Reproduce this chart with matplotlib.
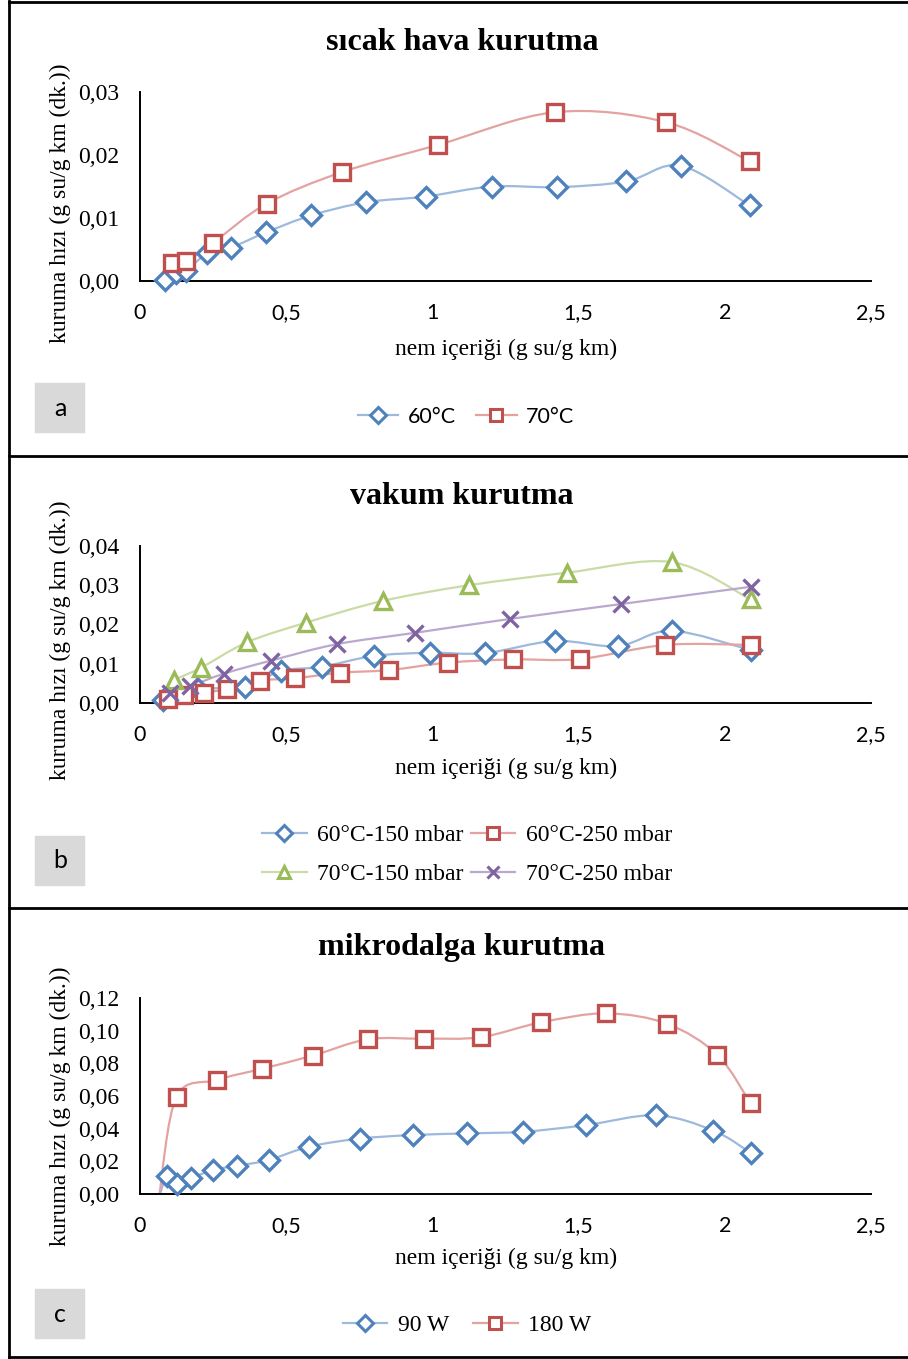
import numpy as np
import matplotlib
matplotlib.use('Agg')
import matplotlib.pyplot as plt
from matplotlib.path import Path
from matplotlib.patches import PathPatch, Rectangle
from matplotlib.lines import Line2D
from matplotlib.ticker import FuncFormatter

# --- data: panel a (sicak hava) ---
a_x60 = [0.084, 0.123, 0.158, 0.23, 0.311, 0.43, 0.585, 0.773, 0.977, 1.203, 1.427, 1.663, 1.849, 2.085]
a_y60 = [0.0002, 0.0012, 0.0016, 0.0044, 0.0053, 0.0077, 0.0104, 0.0125, 0.0134, 0.0150, 0.0149, 0.0158, 0.0183, 0.0120]
a_x70 = [0.075, 0.109, 0.158, 0.251, 0.434, 0.692, 1.019, 1.42, 1.80, 2.085]
a_y70 = [-0.0005, 0.0028, 0.0031, 0.0061, 0.0123, 0.0173, 0.0216, 0.0268, 0.0252, 0.0190]

# --- data: panel b (vakum) ---
b_x1 = [0.08, 0.20, 0.36, 0.483, 0.621, 0.80, 0.993, 1.18, 1.418, 1.634, 1.818, 2.088]
b_y1 = [0.0008, 0.0035, 0.0042, 0.0082, 0.0092, 0.0120, 0.0128, 0.0127, 0.0158, 0.0145, 0.0184, 0.0135]
b_x2 = [0.095, 0.15, 0.22, 0.297, 0.409, 0.53, 0.685, 0.853, 1.055, 1.277, 1.504, 1.797, 2.088]
b_y2 = [0.0009, 0.0020, 0.0026, 0.0036, 0.0057, 0.0063, 0.0077, 0.0084, 0.0103, 0.0111, 0.0112, 0.0148, 0.0148]
b_x3 = [0.116, 0.209, 0.367, 0.569, 0.83, 1.125, 1.46, 1.818, 2.088]
b_y3 = [0.0059, 0.0090, 0.0155, 0.0205, 0.0260, 0.0300, 0.0332, 0.0359, 0.0264]
b_x4 = [0.102, 0.172, 0.288, 0.448, 0.674, 0.942, 1.264, 1.644, 2.088]
b_y4 = [0.0025, 0.0043, 0.0075, 0.0108, 0.0150, 0.0179, 0.0214, 0.0252, 0.0296]

# --- data: panel c (mikrodalga) ---
c_x90 = [0.065, 0.092, 0.125, 0.174, 0.249, 0.332, 0.44, 0.579, 0.752, 0.932, 1.118, 1.31, 1.527, 1.765, 1.961, 2.088]
c_y90 = [-0.002, 0.011, 0.0061, 0.0096, 0.0147, 0.0173, 0.0208, 0.029, 0.0339, 0.0361, 0.0371, 0.0381, 0.0422, 0.0482, 0.0388, 0.0253]
c_x180 = [0.065, 0.125, 0.262, 0.418, 0.59, 0.779, 0.971, 1.165, 1.372, 1.595, 1.804, 1.975, 2.088]
c_y180 = [-0.002, 0.0596, 0.0698, 0.0767, 0.0847, 0.0947, 0.0951, 0.096, 0.1051, 0.1106, 0.1041, 0.0851, 0.0555]

x_ticks = [0, 0.5, 1, 1.5, 2, 2.5]
x_ticklabels = ["0", "0,5", "1", "1,5", "2", "2,5"]

SERIF = "Liberation Serif"
SANS = "Lato"

BLUE, BLUE_L = "#4F81BD", "#9DB9DC"
RED, RED_L = "#C0504D", "#E3A3A1"
GREEN, GREEN_L = "#9BBB59", "#CADBA5"
PURPLE, PURPLE_L = "#8064A2", "#B9A9CE"

W, H = 908, 1359
fig = plt.figure(figsize=(W / 100, H / 100), dpi=100)


def fx(px):
    return px / W


def fy(py):
    return 1 - py / H


def smooth_path(xs, ys):
    # Excel-style smoothed line: Catmull-Rom converted to cubic Bezier
    p = np.column_stack([xs, ys])
    n = len(p)
    verts = [p[0]]
    codes = [Path.MOVETO]
    for i in range(n - 1):
        prev = p[i - 1] if i > 0 else p[i]
        nxt = p[i + 2] if i + 2 < n else p[i + 1]
        c1 = p[i] + (p[i + 1] - prev) / 6
        c2 = p[i + 1] - (nxt - p[i]) / 6
        verts += [c1, c2, p[i + 1]]
        codes += [Path.CURVE4] * 3
    return Path(verts, codes)


def add_series(ax, xs, ys, line_col, mk_col, marker, ms, skip_first=False):
    ax.add_patch(PathPatch(smooth_path(xs, ys), fill=False, edgecolor=line_col,
                           lw=1.6, zorder=2, capstyle='round'))
    start = 1 if skip_first else 0
    mfc = mk_col if marker == 'x' else 'white'
    ax.plot(xs[start:], ys[start:], linestyle='none', marker=marker, ms=ms,
            mec=mk_col, mfc=mfc, mew=2.4, zorder=3, clip_on=False)


def setup_axes(top, bottom, ymax, ystep, ydec):
    ax = fig.add_axes([fx(140), fy(bottom), fx(871) - fx(140), fy(top) - fy(bottom)])
    ax.set_xlim(0, 2.5)
    ax.set_ylim(0, ymax)
    ax.set_xticks(x_ticks)
    ax.set_xticklabels(x_ticklabels, fontfamily=SANS, fontsize=15.5)
    ax.set_yticks(np.arange(0, ymax + ystep / 2, ystep))
    ax.yaxis.set_major_formatter(FuncFormatter(lambda v, _: f"{v:.{ydec}f}".replace('.', ',')))
    for lab in ax.get_yticklabels():
        lab.set_fontfamily(SERIF)
        lab.set_fontsize(17)
    ax.tick_params(axis='y', length=0, pad=15)
    ax.tick_params(axis='x', length=0, pad=16)
    for s in ['top', 'right']:
        ax.spines[s].set_visible(False)
    for s in ['left', 'bottom']:
        ax.spines[s].set_linewidth(1.4)
        ax.spines[s].set_color('black')
    ax.patch.set_alpha(0)
    return ax


def panel_text(title, title_y, xlabel_y, ylabel_cy, box_top, letter):
    fig.text(fx(462), fy(title_y), title, ha='center', va='center',
             fontfamily=SERIF, fontweight='bold', fontsize=23)
    fig.text(fx(506), fy(xlabel_y), "nem içeriği (g su/g km)", ha='center', va='center',
             fontfamily=SERIF, fontsize=17)
    fig.text(fx(60), fy(ylabel_cy), "kuruma hızı (g su/g km (dk.))", ha='center', va='center',
             rotation=90, fontfamily=SERIF, fontsize=17)
    fig.patches.append(Rectangle((fx(35), fy(box_top + 49)), 49 / W, 49 / H,
                                 transform=fig.transFigure, color='#D9D9D9', zorder=0))
    fig.text(fx(60), fy(box_top + 25), letter, ha='center', va='center',
             fontfamily=SANS, fontsize=18)


def handle(line_col, mk_col, marker, ms):
    mfc = mk_col if marker == 'x' else 'white'
    return Line2D([], [], color=line_col, lw=1.6, marker=marker, ms=ms,
                  mec=mk_col, mfc=mfc, mew=2.2)


# ---------------- panel a ----------------
ax_a = setup_axes(92, 281, 0.03, 0.01, 2)
add_series(ax_a, a_x60, a_y60, BLUE_L, BLUE, 'D', 10)
add_series(ax_a, a_x70, a_y70, RED_L, RED, 's', 11.5, skip_first=True)
panel_text("sıcak hava kurutma", 42, 349, 203, 383, "a")
fig.legend([handle(BLUE_L, BLUE, 'D', 8), handle(RED_L, RED, 's', 9)], ["60°C", "70°C"],
           loc='center', bbox_to_anchor=(fx(466), fy(417)), ncol=2, frameon=False,
           prop={'family': SANS, 'size': 15.5}, handlelength=1.9, handletextpad=0.45,
           columnspacing=0.9)

# ---------------- panel b ----------------
ax_b = setup_axes(546, 703, 0.04, 0.01, 2)
add_series(ax_b, b_x1, b_y1, BLUE_L, BLUE, 'D', 10)
add_series(ax_b, b_x2, b_y2, RED_L, RED, 's', 11.5)
add_series(ax_b, b_x3, b_y3, GREEN_L, GREEN, '^', 11.5)
add_series(ax_b, b_x4, b_y4, PURPLE_L, PURPLE, 'x', 11.5)
panel_text("vakum kurutma", 496, 768, 640, 836, "b")
# legend filled column-wise, so order handles to read row by row
fig.legend([handle(BLUE_L, BLUE, 'D', 8), handle(GREEN_L, GREEN, '^', 9),
            handle(RED_L, RED, 's', 9), handle(PURPLE_L, PURPLE, 'x', 9)],
           ["60°C-150 mbar", "70°C-150 mbar", "60°C-250 mbar", "70°C-250 mbar"],
           loc='center', bbox_to_anchor=(fx(467), fy(855)), ncol=2, frameon=False,
           prop={'family': SERIF, 'size': 17}, handlelength=1.9, handletextpad=0.45,
           columnspacing=0.3, labelspacing=0.75)

# ---------------- panel c ----------------
ax_c = setup_axes(998, 1194, 0.12, 0.02, 2)
add_series(ax_c, c_x90, c_y90, BLUE_L, BLUE, 'D', 10, skip_first=True)
add_series(ax_c, c_x180, c_y180, RED_L, RED, 's', 11.5, skip_first=True)
panel_text("mikrodalga kurutma", 948, 1258, 1106, 1289, "c")
fig.legend([handle(BLUE_L, BLUE, 'D', 8), handle(RED_L, RED, 's', 9)], ["90 W", "180 W"],
           loc='center', bbox_to_anchor=(fx(467), fy(1325)), ncol=2, frameon=False,
           prop={'family': SERIF, 'size': 17}, handlelength=1.9, handletextpad=0.45,
           columnspacing=1.0)

# ---------------- panel borders ----------------
border = dict(transform=fig.transFigure, color='black', lw=2)
fig.add_artist(Line2D([fx(9), fx(9)], [fy(1), fy(1358)], **border))
for py in [2, 456, 908, 1357]:
    fig.add_artist(Line2D([fx(9), 1.0], [fy(py), fy(py)], **border))

fig.savefig("out.png", dpi=100)
plt.close(fig)
